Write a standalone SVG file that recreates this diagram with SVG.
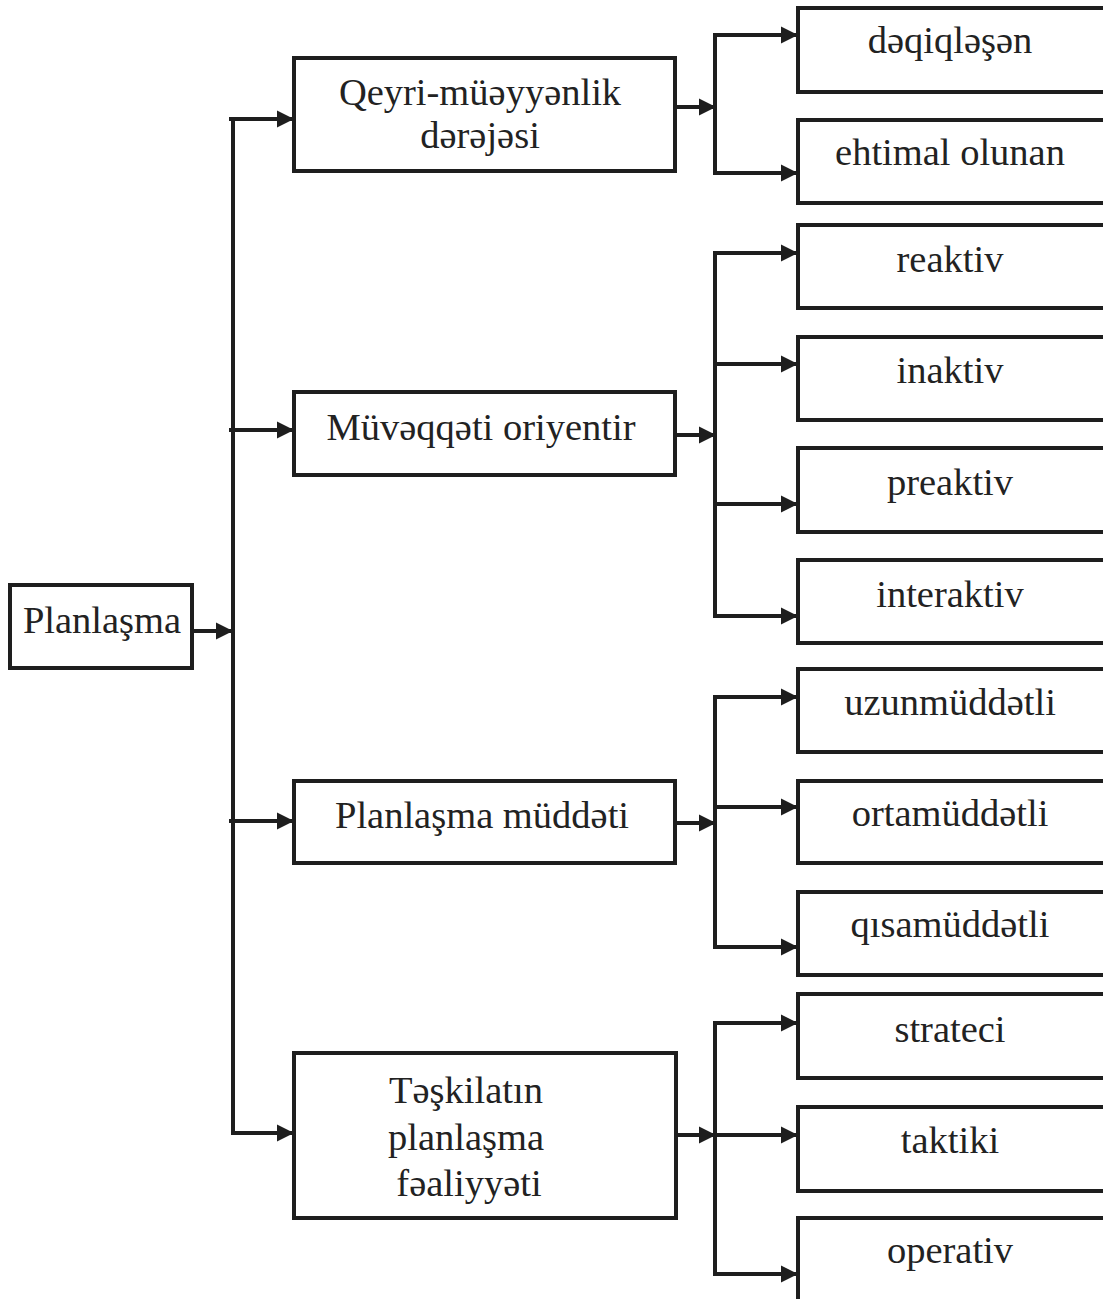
<svg xmlns="http://www.w3.org/2000/svg" width="1103" height="1299" viewBox="0 0 1103 1299">
<style>
.box{fill:#fff;stroke:#1e1e1e;stroke-width:4}
.t{font-family:"Liberation Serif","Times New Roman",serif;font-size:38.5px;fill:#222;text-anchor:middle}
.c{fill:none;stroke:#1e1e1e;stroke-width:4}
</style>
<defs>
<marker id="ah" markerUnits="userSpaceOnUse" markerWidth="18" markerHeight="18" refX="17" refY="9" orient="auto">
<path d="M0,0.5 L17,9 L0,17.5 Z" fill="#1e1e1e"/>
</marker>
</defs>
<g id="connectors">
<path class="c" d="M192,631 H233" marker-end="url(#ah)"/>
<path class="c" d="M233,119 V1135"/>
<path class="c" d="M229,119 H294" marker-end="url(#ah)"/>
<path class="c" d="M229,430 H294" marker-end="url(#ah)"/>
<path class="c" d="M229,821 H294" marker-end="url(#ah)"/>
<path class="c" d="M233,1133 H294" marker-end="url(#ah)"/>
<path class="c" d="M675,107 H716" marker-end="url(#ah)"/>
<path class="c" d="M715,35 V173"/>
<path class="c" d="M713,35 H798" marker-end="url(#ah)"/>
<path class="c" d="M713,173 H798" marker-end="url(#ah)"/>
<path class="c" d="M675,435 H716" marker-end="url(#ah)"/>
<path class="c" d="M715,253 V616"/>
<path class="c" d="M713,253 H798" marker-end="url(#ah)"/>
<path class="c" d="M715,364 H798" marker-end="url(#ah)"/>
<path class="c" d="M715,504 H798" marker-end="url(#ah)"/>
<path class="c" d="M713,616 H798" marker-end="url(#ah)"/>
<path class="c" d="M675,823 H716" marker-end="url(#ah)"/>
<path class="c" d="M715,697 V947"/>
<path class="c" d="M713,697 H798" marker-end="url(#ah)"/>
<path class="c" d="M715,807 H798" marker-end="url(#ah)"/>
<path class="c" d="M713,947 H798" marker-end="url(#ah)"/>
<path class="c" d="M675,1135 H716" marker-end="url(#ah)"/>
<path class="c" d="M715,1023 V1274"/>
<path class="c" d="M713,1023 H798" marker-end="url(#ah)"/>
<path class="c" d="M715,1135 H798" marker-end="url(#ah)"/>
<path class="c" d="M713,1274 H798" marker-end="url(#ah)"/>
</g>
<g id="n-planlasma"><rect class="box" x="10" y="585" width="182" height="83"/><text class="t" x="102" y="633">Planlaşma</text></g>
<g id="n-qeyri"><rect class="box" x="294" y="58" width="381" height="113"/><text class="t" x="480" y="105">Qeyri-müəyyənlik</text><text class="t" x="480" y="148">dərəjəsi</text></g>
<g id="n-muveqqeti"><rect class="box" x="294" y="392" width="381" height="83"/><text class="t" x="481" y="440">Müvəqqəti oriyentir</text></g>
<g id="n-muddeti"><rect class="box" x="294" y="781" width="381" height="82"/><text class="t" x="482" y="828">Planlaşma müddəti</text></g>
<g id="n-teskilat"><rect class="box" x="294" y="1053" width="382" height="165"/><text class="t" x="466" y="1103">Təşkilatın</text><text class="t" x="466" y="1150">planlaşma</text><text class="t" x="469" y="1196">fəaliyyəti</text></g>
<g id="n-deqiq"><rect class="box" x="798" y="8" width="320" height="84"/><text class="t" x="950" y="53">dəqiqləşən</text></g>
<g id="n-ehtimal"><rect class="box" x="798" y="120" width="320" height="83"/><text class="t" x="950" y="165">ehtimal olunan</text></g>
<g id="n-reaktiv"><rect class="box" x="798" y="225" width="320" height="83"/><text class="t" x="950" y="272">reaktiv</text></g>
<g id="n-inaktiv"><rect class="box" x="798" y="337" width="320" height="83"/><text class="t" x="950" y="383">inaktiv</text></g>
<g id="n-preaktiv"><rect class="box" x="798" y="448" width="320" height="84"/><text class="t" x="950" y="495">preaktiv</text></g>
<g id="n-interaktiv"><rect class="box" x="798" y="560" width="320" height="83"/><text class="t" x="950" y="607">interaktiv</text></g>
<g id="n-uzun"><rect class="box" x="798" y="669" width="320" height="83"/><text class="t" x="950" y="715">uzunmüddətli</text></g>
<g id="n-orta"><rect class="box" x="798" y="781" width="320" height="82"/><text class="t" x="950" y="826">ortamüddətli</text></g>
<g id="n-qisa"><rect class="box" x="798" y="892" width="320" height="83"/><text class="t" x="950" y="937">qısamüddətli</text></g>
<g id="n-strateci"><rect class="box" x="798" y="994" width="320" height="84"/><text class="t" x="950" y="1042">strateci</text></g>
<g id="n-taktiki"><rect class="box" x="798" y="1107" width="320" height="84"/><text class="t" x="950" y="1153">taktiki</text></g>
<g id="n-operativ"><rect class="box" x="798" y="1218" width="320" height="90"/><text class="t" x="950" y="1263">operativ</text></g>
</svg>
